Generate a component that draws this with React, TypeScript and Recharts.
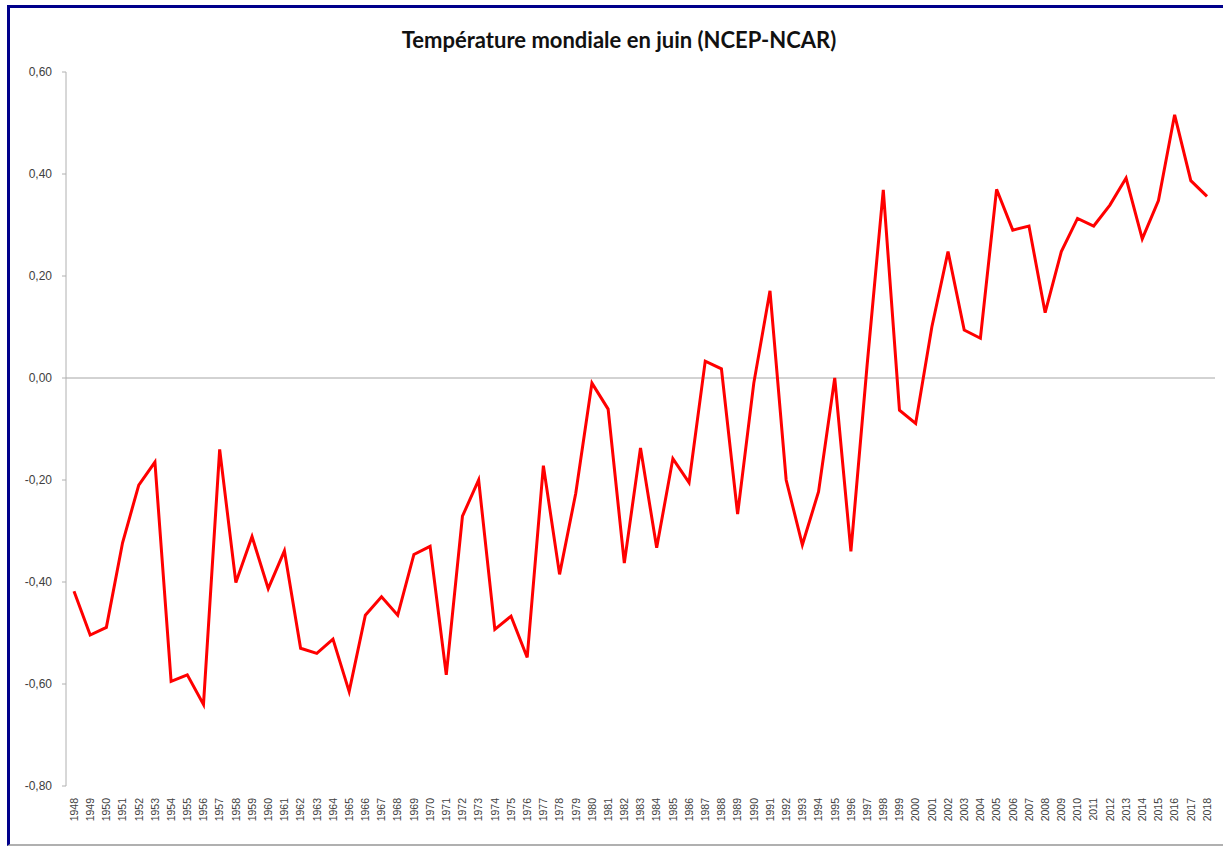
import { LineChart, Line, XAxis, YAxis, ReferenceLine } from "recharts";

const years = [
  "1948", "1949", "1950", "1951", "1952", "1953", "1954", "1955", "1956", "1957",
  "1958", "1959", "1960", "1961", "1962", "1963", "1964", "1965", "1966", "1967",
  "1968", "1969", "1970", "1971", "1972", "1973", "1974", "1975", "1976", "1977",
  "1978", "1979", "1980", "1981", "1982", "1983", "1984", "1985", "1986", "1987",
  "1988", "1989", "1990", "1991", "1992", "1993", "1994", "1995", "1996", "1997",
  "1998", "1999", "2000", "2001", "2002", "2003", "2004", "2005", "2006", "2007",
  "2008", "2009", "2010", "2011", "2012", "2013", "2014", "2015", "2016", "2017",
  "2018",
];

// anomalies de température (°C)
const anomalies = [
  -0.418, -0.504, -0.489, -0.323, -0.21, -0.165, -0.595, -0.582, -0.64, -0.14,
  -0.401, -0.311, -0.413, -0.339, -0.53, -0.54, -0.512, -0.615, -0.465, -0.429,
  -0.465, -0.346, -0.33, -0.582, -0.271, -0.2, -0.493, -0.467, -0.548, -0.172,
  -0.385, -0.226, -0.01, -0.061, -0.363, -0.137, -0.333, -0.158, -0.205, 0.033,
  0.018, -0.267, -0.01, 0.171, -0.2, -0.327, -0.223, 0.0, -0.34, 0.025,
  0.369, -0.063, -0.089, 0.1, 0.248, 0.094, 0.078, 0.37, 0.29, 0.298,
  0.128, 0.248, 0.313, 0.298, 0.339, 0.392, 0.273, 0.348, 0.516, 0.387,
  0.356,
];

const yTicks = [-0.8, -0.6, -0.4, -0.2, 0, 0.2, 0.4, 0.6];

const data = years.map((year, i) => ({ year, value: anomalies[i] }));

const fmt = (v: number) => v.toFixed(2).replace(".", ",");

// labels des années, verticaux, sous le graphique
const YearTick = (props: any) => {
  const { x, payload } = props;
  return (
    <g transform={`translate(${x},798)`}>
      <text
        transform="rotate(-90)"
        textAnchor="end"
        dy="0.36em"
        fill="#404040"
        fontSize={10.5}
        fontFamily="'Liberation Sans', Arial, sans-serif"
      >
        {payload.value}
      </text>
    </g>
  );
};

export default function App() {
  return (
    <div
      style={{
        position: "absolute",
        left: 0,
        top: 0,
        width: 1223,
        height: 846,
        background: "#fff",
        overflow: "hidden",
      }}
    >
      <div
        style={{
          position: "absolute",
          left: 7,
          top: 5,
          width: 1230,
          height: 836,
          borderTop: "3px solid #00008b",
          borderLeft: "3px solid #00008b",
          borderBottom: "2px solid #b0b0b0",
        }}
      />
      <div
        style={{
          position: "absolute",
          left: 0,
          width: 1238,
          top: 26,
          textAlign: "center",
          fontFamily: "Lato, sans-serif",
          fontWeight: 700,
          fontSize: 22,
          color: "#111",
        }}
      >
        Température mondiale en juin (NCEP-NCAR)
      </div>
      <div style={{ position: "absolute", left: 0, top: 0 }}>
        <LineChart
          width={1223}
          height={846}
          data={data}
          margin={{ top: 72, right: 8, bottom: 0, left: 0 }}
        >
          <XAxis
            dataKey="year"
            interval={0}
            padding={{ left: 8, right: 8 }}
            axisLine={false}
            tickLine={false}
            height={60}
            tick={<YearTick />}
          />
          <YAxis
            domain={[-0.8, 0.6]}
            ticks={yTicks}
            interval={0}
            width={66}
            tickFormatter={fmt}
            tickSize={4}
            tickMargin={10}
            axisLine={{ stroke: "#b0b0b0" }}
            tickLine={{ stroke: "#b0b0b0" }}
            tick={{
              fill: "#404040",
              fontSize: 12,
              fontFamily: "'Liberation Sans', Arial, sans-serif",
            }}
          />
          <ReferenceLine y={0} stroke="#a6a6a6" strokeWidth={1} />
          <Line
            type="linear"
            dataKey="value"
            stroke="#ff0000"
            strokeWidth={3}
            dot={false}
            isAnimationActive={false}
          />
        </LineChart>
      </div>
    </div>
  );
}
